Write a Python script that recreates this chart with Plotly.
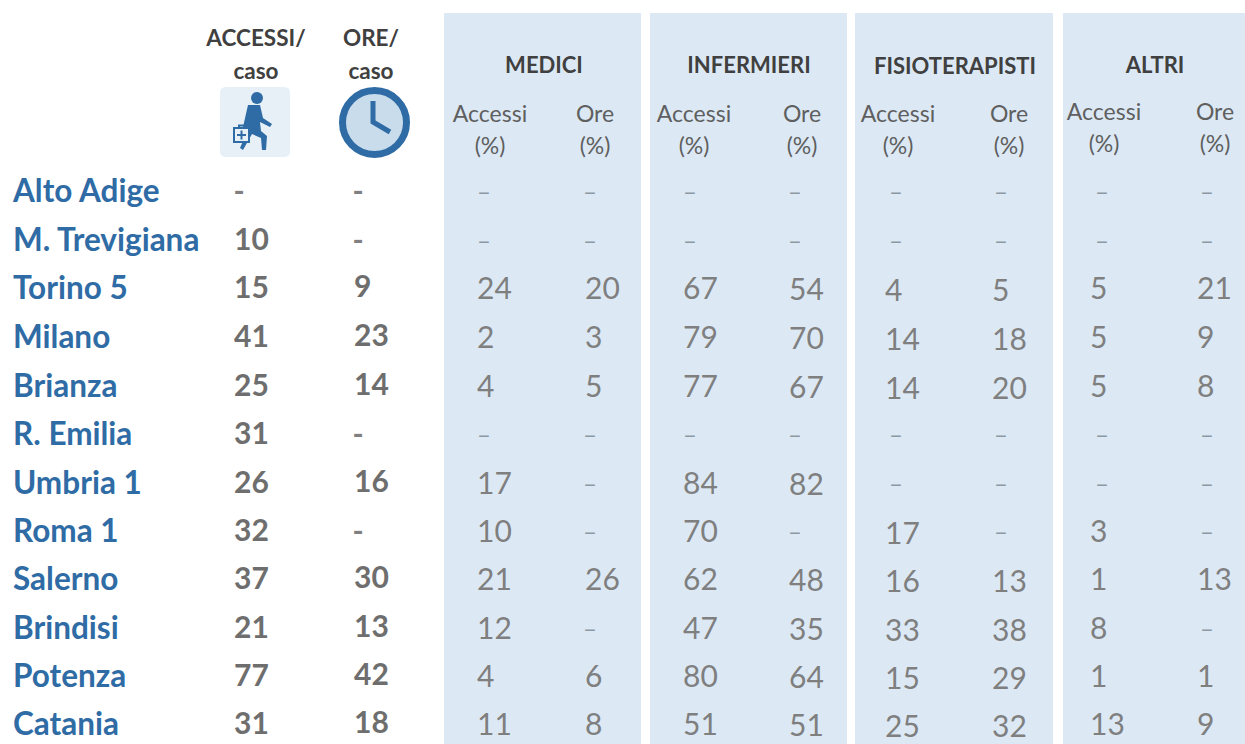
import plotly.graph_objects as go

# ---- data ----
areas = ["Alto Adige", "M. Trevigiana", "Torino 5", "Milano", "Brianza", "R. Emilia",
         "Umbria 1", "Roma 1", "Salerno", "Brindisi", "Potenza", "Catania"]
accessi_caso = [None, 10, 15, 41, 25, 31, 26, 32, 37, 21, 77, 31]
ore_caso = [None, None, 9, 23, 14, None, 16, None, 30, 13, 42, 18]
medici_acc = [None, None, 24, 2, 4, None, 17, 10, 21, 12, 4, 11]
medici_ore = [None, None, 20, 3, 5, None, None, None, 26, None, 6, 8]
inf_acc = [None, None, 67, 79, 77, None, 84, 70, 62, 47, 80, 51]
inf_ore = [None, None, 54, 70, 67, None, 82, None, 48, 35, 64, 51]
fis_acc = [None, None, 4, 14, 14, None, None, 17, 16, 33, 15, 25]
fis_ore = [None, None, 5, 18, 20, None, None, None, 13, 38, 29, 32]
altri_acc = [None, None, 5, 5, 5, None, None, 3, 1, 8, 1, 13]
altri_ore = [None, None, 21, 9, 8, None, None, None, 13, None, 1, 9]
groups = ["MEDICI", "INFERMIERI", "FISIOTERAPISTI", "ALTRI"]

# ---- layout constants ----
W, H = 1245, 744
FONT = "Lato"
TEXT_DY = 3
row_y = [191, 240, 288, 337, 386, 434, 483, 531, 579, 628, 676, 724]
BLUE = "#2F6CA5"
GREY = "#7F7F7F"
DARK = "#404040"
PANEL = "#DCE9F5"
panels = [(444, 641, 13), (650, 847, 13), (855, 1053, 13), (1063, 1245, 13)]

fig = go.Figure()


def add_text(xs, ys, texts, size, color, pos="middle center", bold=False):
    fig.add_trace(go.Scatter(
        x=xs, y=[y + TEXT_DY for y in ys], text=texts, mode="text", textposition=pos, hoverinfo="skip",
        textfont=dict(family=FONT, size=size, color=color, weight="bold" if bold else "normal"),
        showlegend=False, cliponaxis=False))


def add_col(values, x_left, x_dash, dy=0, size=30, color=GREY, bold=False,
            dash_color="#8C98A3", dash="–", dash_size=24):
    vx = [x_left for v in values if v is not None]
    vy = [y + dy for y, v in zip(row_y, values) if v is not None]
    vt = [str(v) for v in values if v is not None]
    add_text(vx, vy, vt, size, color, pos="middle right", bold=bold)
    dy_vals = [y for y, v in zip(row_y, values) if v is None]
    add_text([x_dash] * len(dy_vals), dy_vals, [dash] * len(dy_vals), dash_size, dash_color, bold=bold)


# row labels
add_text([13] * len(areas), row_y, areas, 31.5, BLUE, pos="middle right", bold=True)

# left metrics
add_col(accessi_caso, 234, 239, dy=-1, size=30, color="#6E6E6E", bold=True,
        dash_color="#808080", dash="-", dash_size=30)
add_col(ore_caso, 354, 358, dy=-2, size=30, color="#6E6E6E", bold=True,
        dash_color="#808080", dash="-", dash_size=30)

# group columns
add_col(medici_acc, 477, 484, dy=0)
add_col(medici_ore, 585, 590, dy=0)
add_col(inf_acc, 683, 690, dy=0)
add_col(inf_ore, 789, 795, dy=1)
add_col(fis_acc, 885, 896, dy=2)
add_col(fis_ore, 992, 1001, dy=2)
add_col(altri_acc, 1090, 1102, dy=0)
add_col(altri_ore, 1197, 1207, dy=0)

# headers
add_text([256, 256], [37, 70], ["ACCESSI/", "caso"], 22.5, DARK, bold=True)
add_text([371, 371], [37, 70], ["ORE/", "caso"], 22.5, DARK, bold=True)
add_text([544, 749, 955, 1155], [64, 64, 65, 64], groups, 22, DARK, bold=True)

for xa, xo, y in [(490, 595, 0), (694, 802, 0), (898, 1009, 0), (1104, 1215, -2)]:
    add_text([xa, xa, xo, xo], [113 + y, 145 + y, 113 + y, 145 + y],
             ["Accessi", "(%)", "Ore", "(%)"], 23, "#5F5F5F")

shapes = []
for x0, x1, y0 in panels:
    shapes.append(dict(type="rect", x0=x0, x1=x1, y0=y0, y1=H, fillcolor=PANEL, line_width=0, layer="below"))

# visit icon
shapes.append(dict(type="path", path="M 226,87 L 284,87 Q 290,87 290,93 L 290,151 Q 290,157 284,157 L 226,157 Q 220,157 220,151 L 220,93 Q 220,87 226,87 Z",
                   fillcolor="#E8F0F7", line_width=0, layer="below"))
shapes.append(dict(type="circle", x0=251, x1=263, y0=92, y1=104, fillcolor=BLUE, line_width=0))
shapes.append(dict(type="path", path="M 248,105 L 260,105 L 263,118 L 272,124 L 270,127 L 260,122 L 261,131 L 267,136 L 266,150 L 262,150 L 261,138 L 252,134 L 243,150 L 240,148 L 246,134 L 243,127 Z",
                   fillcolor=BLUE, line_width=0))
shapes.append(dict(type="rect", x0=234, x1=249, y0=128, y1=142, fillcolor="#E8F0F7", line=dict(color=BLUE, width=2)))
shapes.append(dict(type="path", path="M 241.5,130.5 L 241.5,139.5 M 237,135 L 246,135 M 239,128 L 239,125.5 L 245,125.5 L 245,128", line=dict(color=BLUE, width=2)))

# clock icon
shapes.append(dict(type="circle", x0=342.5, x1=406.5, y0=90.5, y1=154.5, fillcolor="#C9DCEC", line=dict(color=BLUE, width=7)))
shapes.append(dict(type="path", path="M 373,101 L 373,122 L 390,132", line=dict(color=BLUE, width=5)))

fig.update_layout(
    width=W, height=H, autosize=False, margin=dict(l=0, r=0, t=0, b=0),
    paper_bgcolor="white", plot_bgcolor="white", showlegend=False, shapes=shapes,
    xaxis=dict(range=[0, W], visible=False, fixedrange=True),
    yaxis=dict(range=[H, 0], visible=False, fixedrange=True),
)
fig.write_html("out.html", config={"displayModeBar": False},
               post_script="document.body.style.margin='0';document.documentElement.style.overflow='hidden';")
